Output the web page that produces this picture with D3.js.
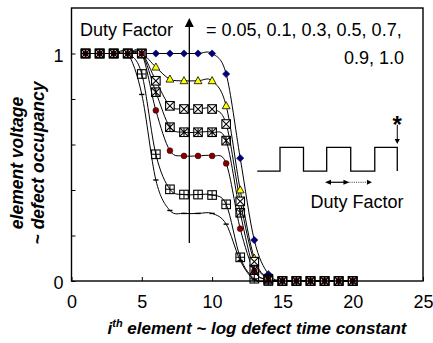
<!DOCTYPE html>
<html>
<head>
<meta charset="utf-8">
<script src="https://cdn.jsdelivr.net/npm/d3@7"></script>
<style>
  body { margin: 0; background: #fff; }
  svg { display: block; }
  text { font-family: "Liberation Sans", Arial, sans-serif; fill: #000; }
</style>
</head>
<body>
<svg id="chart" width="433" height="343"></svg>
<script>
// element index along the chain (~ log defect time constant)
const elementIndex = d3.range(1, 21);

// element voltage (~ defect occupancy) for each duty factor
const occ100 = [1, 1, 1, 1, 1, 1, 1, 1, 1, 1, 0.91, 0.54, 0.18, 0.03, 0, 0, 0, 0, 0, 0];
const occ090 = [1, 1, 1, 1, 1, 0.94, 0.887, 0.88, 0.88, 0.88, 0.77, 0.40, 0.10, 0.01, 0, 0, 0, 0, 0, 0];
const occ070 = [1, 1, 1, 1, 1, 0.88, 0.77, 0.756, 0.756, 0.756, 0.69, 0.35, 0.085, 0.01, 0, 0, 0, 0, 0, 0];
const occ050 = [1, 1, 1, 1, 1, 0.83, 0.676, 0.654, 0.654, 0.654, 0.617, 0.30, 0.05, 0.005, 0, 0, 0, 0, 0, 0];
const occ030 = [1, 1, 1, 1, 1, 0.75, 0.573, 0.55, 0.55, 0.55, 0.517, 0.23, 0.044, 0.005, 0, 0, 0, 0, 0, 0];
const occ010 = [1, 1, 1, 1, 0.91, 0.557, 0.403, 0.38, 0.38, 0.378, 0.337, 0.104, 0.01, 0, 0, 0, 0, 0, 0, 0];
const occ005 = [1, 1, 1, 1, 0.82, 0.444, 0.31, 0.297, 0.297, 0.297, 0.25, 0.09, 0.005, 0, 0, 0, 0, 0, 0, 0];

// drawing order of the series (later ones sit on top where markers overlap)
const dutyFactors = ["1.0", "0.9", "0.7", "0.3", "0.5", "0.1", "0.05"];
const dutyValues = [occ100, occ090, occ070, occ030, occ050, occ010, occ005];
const dutyMarkers = ["diamond", "triangle", "boxX", "circle", "boxStar", "boxPlus", "dash"];

const xTicks = [0, 5, 10, 15, 20, 25];
const yTicks = [0, 0.2, 0.4, 0.6, 0.8, 1];
const yTickLabels = { 0: "0", 1: "1" };

// inset: square-wave stress pattern (edges in element units, levels in voltage units)
const waveEdges = [13.21, 14.83, 16.5, 18.15, 19.86, 21.57, 23.17];
const waveLow = 0.483, waveHigh = 0.587;

const x = d3.scaleLinear().domain([0, 25]).range([71.5, 423]);
const y = d3.scaleLinear().domain([0, 1.2]).range([281, 8]);

const svg = d3.select("#chart");
const fontFamily = '"Liberation Sans", Arial, sans-serif';

// axes with inward ticks
const xAxis = d3.axisBottom(x).tickValues(xTicks).tickSizeInner(-4).tickSizeOuter(0).tickPadding(14);
const gx = svg.append("g").attr("transform", `translate(0,${y(0)})`).call(xAxis);
gx.select(".domain").remove();
gx.selectAll("text").style("font-size", "18px").style("font-family", fontFamily);
gx.selectAll("line").attr("stroke", "#000");

const yAxis = d3.axisLeft(y).tickValues(yTicks).tickSizeInner(-4).tickSizeOuter(0).tickPadding(8)
  .tickFormat(d => yTickLabels[d] || "");
const gy = svg.append("g").attr("transform", `translate(${x(0)},0)`).call(yAxis);
gy.select(".domain").remove();
gy.selectAll("text").style("font-size", "18px").attr("dy", "0.42em").style("font-family", fontFamily);
gy.selectAll("line").attr("stroke", "#000");

// plot frame
svg.append("rect")
  .attr("x", x(0)).attr("y", y(1.2))
  .attr("width", x(25) - x(0)).attr("height", y(0) - y(1.2))
  .attr("fill", "none").attr("stroke", "#000").attr("stroke-width", 1.4);

// smoothed curves
const line = d3.line()
  .x((d, i) => x(elementIndex[i]))
  .y(d => y(d))
  .curve(d3.curveCardinal.tension(0));

const series = dutyFactors.map((f, k) => ({ factor: f, values: dutyValues[k], marker: dutyMarkers[k] }));

svg.append("g").selectAll("path").data(series).join("path")
  .attr("d", s => line(s.values))
  .attr("fill", "none").attr("stroke", "#000").attr("stroke-width", 1);

// marker shapes
function drawMarker(g, type) {
  const box = fill => g.append("rect").attr("x", -4.3).attr("y", -4.3).attr("width", 8.6).attr("height", 8.6)
    .attr("fill", fill).attr("stroke", "#000").attr("stroke-width", 1.1);
  const strokePath = d => g.append("path").attr("d", d).attr("fill", "none").attr("stroke", "#000").attr("stroke-width", 1.05);
  if (type === "diamond") {
    g.append("path").attr("d", "M0,-3.6L3.6,0L0,3.6L-3.6,0Z").attr("fill", "#000080").attr("stroke", "#000040").attr("stroke-width", 0.6);
  } else if (type === "triangle") {
    g.append("path").attr("d", "M0,-4.2L3.9,2.9L-3.9,2.9Z").attr("fill", "#ffff00").attr("stroke", "#000").attr("stroke-width", 0.8);
  } else if (type === "boxX") {
    box("#fff"); strokePath("M-4,-4L4,4M4,-4L-4,4");
  } else if (type === "boxStar") {
    box("none"); strokePath("M-4,-4L4,4M4,-4L-4,4M0,-4V4");
  } else if (type === "boxPlus") {
    box("none"); strokePath("M0,-4V4M-4,0H4");
  } else if (type === "dash") {
    g.append("path").attr("d", "M-2.6,0H2.6").attr("stroke", "#000").attr("stroke-width", 1.4);
  } else if (type === "circle") {
    g.append("circle").attr("r", 2.9).attr("fill", "#800000").attr("stroke", "#400000").attr("stroke-width", 0.6);
  }
}

series.forEach(s => {
  const gs = svg.append("g");
  s.values.forEach((v, i) => {
    const g = gs.append("g").attr("transform", `translate(${x(elementIndex[i])},${y(v)})`);
    drawMarker(g, s.marker);
  });
});

// arrowhead helper: tip at (tx,ty), pointing along angle (radians)
function arrowHead(tx, ty, angle, len, half) {
  const bx = tx - len * Math.cos(angle), by = ty - len * Math.sin(angle);
  const px = -Math.sin(angle) * half, py = Math.cos(angle) * half;
  svg.append("path")
    .attr("d", `M${tx},${ty}L${bx + px},${by + py}L${bx - px},${by - py}Z`)
    .attr("fill", "#000");
}

// duty factor trend arrow
const arrowX = x(8.38);
svg.append("line").attr("x1", arrowX).attr("x2", arrowX).attr("y1", y(0.167)).attr("y2", y(1.156) + 6)
  .attr("stroke", "#000").attr("stroke-width", 1.3);
arrowHead(arrowX, y(1.156), -Math.PI / 2, 9, 4.5);

// legend text
svg.append("text").attr("x", 80).attr("y", 36).style("font-size", "18px").text("Duty Factor");
svg.append("text").attr("x", 206).attr("y", 36).style("font-size", "18px").text("= 0.05, 0.1, 0.3, 0.5, 0.7,");
svg.append("text").attr("x", 404).attr("y", 64).attr("text-anchor", "end").style("font-size", "18px").text("0.9, 1.0");

// inset square wave
const wavePts = [[waveEdges[0], waveLow]];
for (let i = 1; i < waveEdges.length; i++) {
  const prev = wavePts[wavePts.length - 1][1];
  const next = prev === waveLow ? waveHigh : waveLow;
  wavePts.push([waveEdges[i], prev], [waveEdges[i], next]);
}
svg.append("path")
  .attr("d", d3.line().x(d => x(d[0])).y(d => y(d[1]))(wavePts))
  .attr("fill", "none").attr("stroke", "#000").attr("stroke-width", 1.3);

// measurement point marker
const starX = x(waveEdges[waveEdges.length - 1]);
svg.append("text").attr("x", starX).attr("y", 133).attr("text-anchor", "middle")
  .style("font-size", "24px").style("font-weight", "bold").text("*");
svg.append("line").attr("x1", starX).attr("x2", starX).attr("y1", y(0.686)).attr("y2", y(0.602) - 4)
  .attr("stroke", "#000").attr("stroke-width", 1);
arrowHead(starX, y(0.602), Math.PI / 2, 5, 2.6);

// duty factor span arrows
const spanY = y(0.434);
const a0 = x(18.03), a1 = x(19.77), a2 = x(21.37);
svg.append("line").attr("x1", a0 + 4).attr("x2", a1 - 4).attr("y1", spanY).attr("y2", spanY)
  .attr("stroke", "#000").attr("stroke-width", 1.2);
arrowHead(a0, spanY, Math.PI, 6, 2.6);
arrowHead(a1, spanY, 0, 6, 2.6);
svg.append("line").attr("x1", a1).attr("x2", a2 - 4).attr("y1", spanY).attr("y2", spanY)
  .attr("stroke", "#000").attr("stroke-width", 0.8).attr("stroke-dasharray", "1,1.2");
arrowHead(a2, spanY, 0, 5, 2.4);

svg.append("text").attr("x", 357).attr("y", 208).attr("text-anchor", "middle")
  .style("font-size", "18px").text("Duty Factor");

// axis titles
const xt = svg.append("text").attr("x", 257).attr("y", 334).attr("text-anchor", "middle")
  .style("font-size", "17px").style("font-weight", "bold").style("font-style", "italic");
xt.append("tspan").text("i");
xt.append("tspan").attr("dy", -7).style("font-size", "11px").text("th");
xt.append("tspan").attr("dy", 7).text(" element ~ log defect time constant");

const yt = svg.append("text").attr("transform", "translate(23,163) rotate(-90)").attr("text-anchor", "middle")
  .style("font-size", "17.5px").style("font-weight", "bold").style("font-style", "italic");
yt.append("tspan").attr("x", 0).attr("dy", 0).text("element voltage");
yt.append("tspan").attr("x", 0).attr("dy", 21).text("~ defect occupancy");
</script>
</body>
</html>
